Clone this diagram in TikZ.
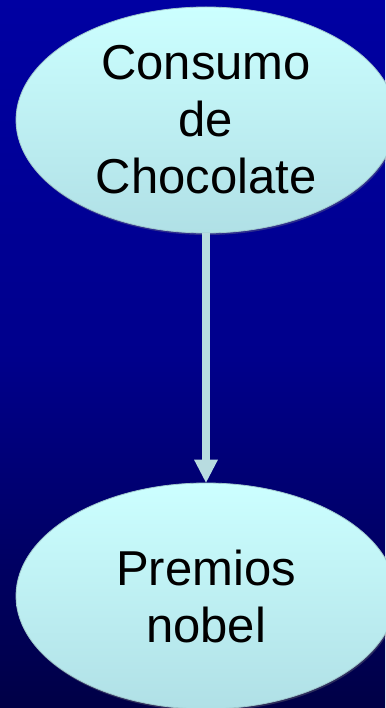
\documentclass[tikz,border=0pt]{standalone}
\usepackage{fontspec}
\setmainfont{Liberation Sans}
\usetikzlibrary{shapes.geometric,arrows.meta,shadows}
\definecolor{bgtop}{RGB}{0,0,162}
\definecolor{bgmid}{RGB}{0,0,140}
\definecolor{bgbot}{RGB}{0,0,70}
\definecolor{elltop}{RGB}{204,255,255}
\definecolor{ellbot}{RGB}{176,224,230}
\definecolor{ellline}{RGB}{160,200,205}
\definecolor{arrowcol}{RGB}{184,220,224}
\tikzset{
  bubble/.style={ellipse, draw=ellline, line width=0.8pt, top color=elltop, bottom color=ellbot,
    minimum width=380pt, minimum height=226pt, inner sep=0pt, align=center,
    font=\fontsize{49}{57}\selectfont, text=black,
    drop shadow={shadow xshift=1pt, shadow yshift=-2pt, opacity=0.35}},
  link/.style={draw=arrowcol, line width=8pt,
    -{Triangle[length=23pt, width=24pt, line width=0pt, fill=arrowcol]}}
}
\begin{document}
\begin{tikzpicture}[x=1pt,y=-1pt]
\useasboundingbox (0,0) rectangle (385,708);
\shade[top color=bgtop, bottom color=bgbot, middle color=bgmid] (0,0) rectangle (385,708);
\node[bubble] (choc) at (206,120) {Consumo\\de\\Chocolate};
\node[bubble] (nobel) at (206,596) {Premios\\nobel};
\draw[link] (choc) -- (nobel);
\end{tikzpicture}
\end{document}
